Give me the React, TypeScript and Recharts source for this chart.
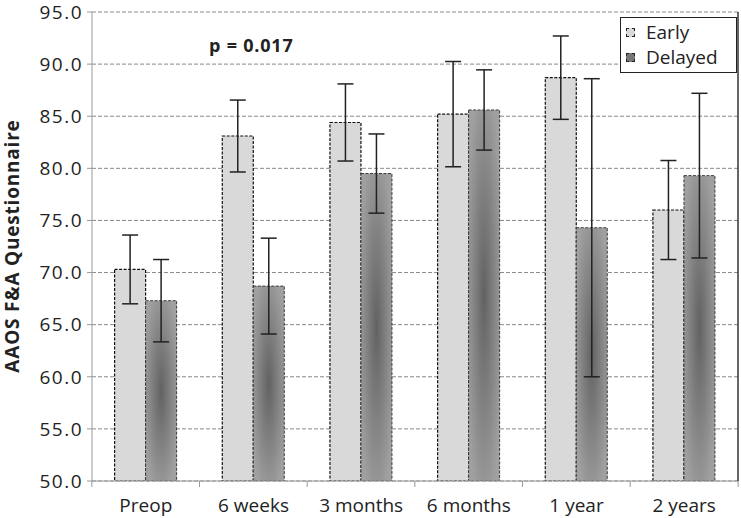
import React from 'react'
import {
  BarChart,
  Bar,
  XAxis,
  YAxis,
  CartesianGrid,
  ErrorBar
} from 'recharts'

const categories = ['Preop', '6 weeks', '3 months', '6 months', '1 year', '2 years']
const earlyMeans = [70.3, 83.1, 84.4, 85.2, 88.7, 76.0]
const earlyErrors = [3.3, 3.45, 3.7, 5.05, 4.0, 4.75]
const delayedMeans = [67.3, 68.7, 79.5, 85.6, 74.3, 79.3]
const delayedErrors = [3.95, 4.6, 3.8, 3.85, 14.3, 7.9]
const yTicks = [50, 55, 60, 65, 70, 75, 80, 85, 90, 95]
const seriesNames = ['Early', 'Delayed']

const font = '"Open Sans", "Noto Sans", sans-serif'

const data = categories.map((cat, i) => ({
  cat,
  early: earlyMeans[i],
  earlyErr: earlyErrors[i],
  delayed: delayedMeans[i],
  delayedErr: delayedErrors[i]
}))

const XTick = (props: any) => {
  const { x, payload, index } = props
  const half = 54
  const axisY = 481
  return (
    <g>
      <line x1={x - half} x2={x - half} y1={axisY} y2={axisY + 6} stroke="#999" />
      {index === categories.length - 1 && (
        <line x1={x + half} x2={x + half} y1={axisY} y2={axisY + 6} stroke="#999" />
      )}
      <text x={x} y={axisY + 31} textAnchor="middle" fill="#222" fontSize={19} fontFamily={font}>
        {payload.value}
      </text>
    </g>
  )
}

// legend drawn as a plain box so it doesn't eat plot width
const LegendBox = () => (
  <div
    style={{
      position: 'absolute',
      left: 620,
      top: 17,
      width: 110,
      border: '1.5px solid #222',
      background: '#fff',
      padding: '2px 0 2px 5px',
      fontFamily: font,
      fontSize: 19,
      lineHeight: '25px',
      color: '#222'
    }}
  >
    {seriesNames.map((name, i) => (
      <div key={name} style={{ display: 'flex', alignItems: 'center' }}>
        <span
          style={{
            display: 'inline-block',
            width: 7,
            height: 7,
            background: i === 0 ? '#d9d9d9' : '#777',
            border: '1px dashed #222',
            marginRight: 11
          }}
        />
        {name}
      </div>
    ))}
  </div>
)

const App = () => {
  return (
    <div style={{ position: 'absolute', left: 0, top: 0, width: 741, height: 518, background: '#fff' }}>
      <BarChart
        width={741}
        height={518}
        data={data}
        margin={{ top: 12, right: 2, left: 0, bottom: 0 }}
        barCategoryGap="21%"
        barGap={0}
      >
        <defs>
          <radialGradient id="delGrad" cx="50%" cy="50%" r="60%">
            <stop offset="0%" stopColor="#626262" />
            <stop offset="100%" stopColor="#a0a0a0" />
          </radialGradient>
        </defs>
        <CartesianGrid vertical={false} stroke="#8a8a8a" strokeDasharray="4 2" />
        <XAxis
          dataKey="cat"
          height={37}
          axisLine={{ stroke: '#999' }}
          tickLine={false}
          tick={<XTick />}
          interval={0}
        />
        <XAxis
          xAxisId="top"
          dataKey="cat"
          orientation="top"
          height={0}
          tick={false}
          tickLine={false}
          axisLine={{ stroke: '#333', strokeWidth: 1.5 }}
        />
        <YAxis
          width={92}
          domain={[50, 95]}
          ticks={yTicks}
          interval={0}
          allowDataOverflow
          tickFormatter={(v: number) => v.toFixed(1)}
          axisLine={{ stroke: '#999' }}
          tickLine={{ stroke: '#999' }}
          tickSize={5}
          tickMargin={4}
          tick={{ fill: '#222', fontSize: 19, fontFamily: font, letterSpacing: 1.5 }}
          label={{
            content: () => (
              <text
                x={19}
                y={246}
                transform="rotate(-90 19 246)"
                textAnchor="middle"
                fill="#222"
                fontSize={19}
                fontWeight="bold"
                letterSpacing={0.8}
                fontFamily={font}
              >
                AAOS F&amp;A Questionnaire
              </text>
            )
          }}
        />
        <YAxis
          yAxisId="right"
          orientation="right"
          width={1}
          domain={[50, 95]}
          tick={false}
          tickLine={false}
          axisLine={{ stroke: '#333', strokeWidth: 1.5 }}
        />
        <Bar
          dataKey="early"
          name="Early"
          fill="#d9d9d9"
          stroke="#111"
          strokeDasharray="3 1.5"
          strokeWidth={1.2}
          isAnimationActive={false}
        >
          <ErrorBar dataKey="earlyErr" width={8} stroke="#222" strokeWidth={1.5} direction="y" />
        </Bar>
        <Bar
          dataKey="delayed"
          name="Delayed"
          fill="url(#delGrad)"
          stroke="#3a3a3a"
          strokeDasharray="3 1.5"
          strokeWidth={1}
          isAnimationActive={false}
        >
          <ErrorBar dataKey="delayedErr" width={8} stroke="#222" strokeWidth={1.5} direction="y" />
        </Bar>
      </BarChart>
      <LegendBox />
      <div
        style={{
          position: 'absolute',
          left: 209,
          top: 33,
          fontFamily: font,
          fontWeight: 'bold',
          fontSize: 18,
          letterSpacing: 0.8,
          color: '#222'
        }}
      >
        p = 0.017
      </div>
    </div>
  )
}

export default App
